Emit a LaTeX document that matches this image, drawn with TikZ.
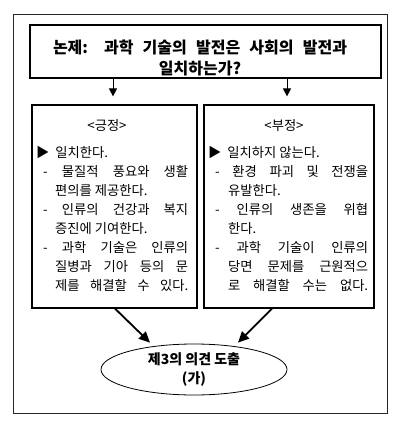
\documentclass[tikz,border=0pt]{standalone}
\usepackage{fontspec}
\newfontfamily\kr{Noto Sans CJK KR}
\usetikzlibrary{shapes.geometric,arrows.meta}
\begin{document}
\begin{tikzpicture}[x=1pt,y=-1pt,
  box/.style={draw=black,line width=1.2pt,rectangle,inner sep=0pt},
  frame/.style={draw=black!85,line width=0.9pt},
  arr/.style={draw=black,line width=1pt,-{Triangle[length=8pt,width=8pt]}},
  arrb/.style={draw=black,line width=1.8pt,-{Triangle[length=11pt,width=10pt]}},
  body/.style={inner sep=0pt,anchor=base west,font=\kr\fontsize{13.3}{19}\selectfont},
  ttl/.style={inner sep=0pt,anchor=base,font=\kr\fontsize{13.3}{19}\selectfont}]
\useasboundingbox (0,0) rectangle (400,421);
\fill[white] (0,0) rectangle (400,421);
\draw[frame] (13,14.5) rectangle (387,413);
\node[box,minimum width=351pt,minimum height=53pt] (top) at (205.5,51.5) {};
\node[inner sep=0pt,anchor=base,font=\kr\bfseries\fontsize{16}{21}\selectfont] (head) at (200,53)
 {\parbox[t]{294pt}{\centering\makebox[294pt][s]{논제: 과학 기술의 발전은 사회의 발전과}\\
  일치하는가?}};
\node[box,minimum width=165pt,minimum height=203pt] (lbox) at (114.5,206.5) {};
\node[box,minimum width=170pt,minimum height=203pt] (rbox) at (289,206.5) {};
\node[ttl] (lt) at (107,130.5) {<긍정>};
\node[ttl] (rt) at (284,130.5) {<부정>};
\node[body] (ltext) at (36,157) {\parbox[t]{155pt}{%
▶\hspace{6pt}일치한다.\\
\hspace*{7pt}\makebox[145pt][s]{- 물질적 풍요와 생활}\\
\hspace*{19pt}편의를 제공한다.\\
\hspace*{7pt}\makebox[145pt][s]{- 인류의 건강과 복지}\\
\hspace*{19pt}증진에 기여한다.\\
\hspace*{7pt}\makebox[145pt][s]{- 과학 기술은 인류의}\\
\hspace*{19pt}\makebox[133pt][s]{질병과 기아 등의 문}\\
\hspace*{19pt}\makebox[133pt][s]{제를 해결할 수 있다.}}};
\node[body] (rtext) at (208,157) {\parbox[t]{165pt}{%
▶\hspace{6pt}일치하지 않는다.\\
\hspace*{7pt}\makebox[153pt][s]{- 환경 파괴 및 전쟁을}\\
\hspace*{20pt}유발한다.\\
\hspace*{7pt}\makebox[153pt][s]{- 인류의 생존을 위협}\\
\hspace*{20pt}한다.\\
\hspace*{7pt}\makebox[153pt][s]{- 과학 기술이 인류의}\\
\hspace*{20pt}\makebox[140pt][s]{당면 문제를 근원적으}\\
\hspace*{20pt}\makebox[140pt][s]{로 해결할 수는 없다.}}};
\node[ellipse,draw=black,line width=0.8pt,minimum width=186pt,minimum height=51pt,inner sep=0pt,
  align=center,font=\kr\bfseries\fontsize{14}{19}\selectfont] (ell) at (194,369.5) {제3의 의견 도출\\(가)};
\draw[arr,shorten >=8pt] ([xshift=-1.5pt]lbox.north |- top.south) -- ([xshift=-1.5pt]lbox.north);
\draw[arr,shorten >=8pt] ([xshift=-2pt]rbox.north |- top.south) -- ([xshift=-2pt]rbox.north);
\draw[arrb,shorten >=5pt] ([xshift=0.5pt]lbox.south) -- (ell.150);
\draw[arrb,shorten >=5pt] ([xshift=-17pt]rbox.south) -- (ell.30);
\end{tikzpicture}
\end{document}
